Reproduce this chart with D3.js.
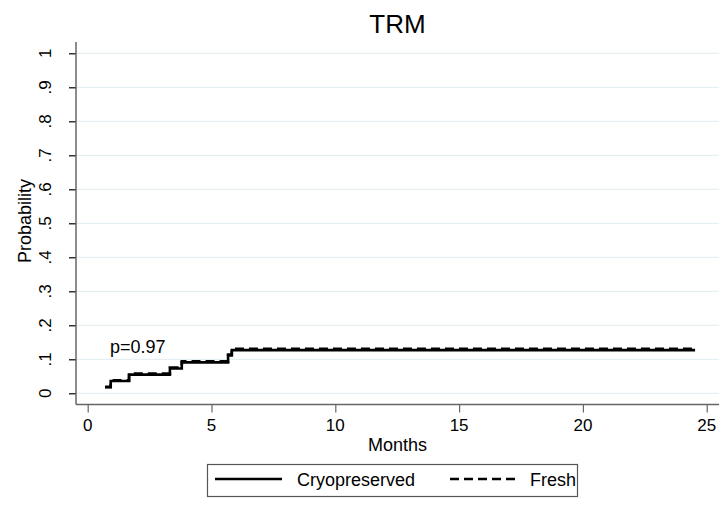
<!DOCTYPE html>
<html>
<head>
<meta charset="utf-8">
<script src="https://cdn.jsdelivr.net/npm/d3@7"></script>
<style>
  body { margin: 0; background: #fff; }
  text { font-family: "Liberation Sans", Arial, Helvetica, sans-serif; fill: #000; }
</style>
</head>
<body>
<div id="vis"></div>
<script>
// data
const Y_TICKS = [0, 0.1, 0.2, 0.3, 0.4, 0.5, 0.6, 0.7, 0.8, 0.9, 1];
const Y_LABELS = ["0", ".1", ".2", ".3", ".4", ".5", ".6", ".7", ".8", ".9", "1"];
const X_TICKS = [0, 5, 10, 15, 20, 25];

// step curves: months, probability
const CRYO_T = [0.70, 0.93, 1.67, 3.32, 3.80, 5.67, 5.82, 24.53];
const CRYO_P = [0.018, 0.036, 0.055, 0.073, 0.091, 0.111, 0.127, 0.127];
const FRESH_T = [0.70, 0.93, 1.67, 3.32, 3.80, 5.67, 5.82, 24.53];
const FRESH_P = [0.019, 0.038, 0.058, 0.076, 0.094, 0.114, 0.131, 0.131];

const SERIES = ["Cryopreserved", "Fresh"];

// frame
const FRAME_WIDTH = 726;
const FRAME_HEIGHT = 506;

const svg = d3.select("#vis")
  .append("svg")
  .attr("width", FRAME_WIDTH)
  .attr("height", FRAME_HEIGHT);

const X_SCALE = d3.scaleLinear().domain([0, 25]).range([87.7, 706.7]);
const Y_SCALE = d3.scaleLinear().domain([0, 1]).range([393.3, 53.3]);

const PLOT = { left: 76, right: 719, top: 42, bottom: 404.5 };

// grid lines
svg.append("g")
  .selectAll("line")
  .data(Y_TICKS)
  .enter()
  .append("line")
    .attr("x1", PLOT.left)
    .attr("x2", PLOT.right)
    .attr("y1", (d) => Y_SCALE(d))
    .attr("y2", (d) => Y_SCALE(d))
    .attr("stroke", "#e6eff1")
    .attr("stroke-width", 1.2);

// y axis
const yAxis = svg.append("g")
  .attr("transform", "translate(" + PLOT.left + ",0)")
  .call(d3.axisLeft(Y_SCALE).tickValues(Y_TICKS).tickSize(7).tickFormat(""));
yAxis.select(".domain").remove();
yAxis.selectAll(".tick line").attr("stroke", "#000").attr("stroke-width", 1.2);
svg.append("line")
  .attr("x1", PLOT.left).attr("x2", PLOT.left)
  .attr("y1", PLOT.top).attr("y2", PLOT.bottom)
  .attr("stroke", "#666").attr("stroke-width", 1.5);

svg.append("g")
  .selectAll("text")
  .data(Y_TICKS)
  .enter()
  .append("text")
    .attr("transform", (d) => "translate(51," + Y_SCALE(d) + ") rotate(-90)")
    .attr("text-anchor", "middle")
    .attr("font-size", 17)
    .text((d, i) => Y_LABELS[i]);

// x axis
const xAxis = svg.append("g")
  .attr("transform", "translate(0," + PLOT.bottom + ")")
  .call(d3.axisBottom(X_SCALE).tickValues(X_TICKS).tickSize(8).tickFormat(""));
xAxis.select(".domain").remove();
xAxis.selectAll(".tick line").attr("stroke", "#666").attr("stroke-width", 1.2);
svg.append("line")
  .attr("x1", PLOT.left).attr("x2", PLOT.right)
  .attr("y1", PLOT.bottom).attr("y2", PLOT.bottom)
  .attr("stroke", "#666").attr("stroke-width", 1.5);

svg.append("g")
  .selectAll("text")
  .data(X_TICKS)
  .enter()
  .append("text")
    .attr("x", (d) => X_SCALE(d))
    .attr("y", 431)
    .attr("text-anchor", "middle")
    .attr("font-size", 17)
    .text((d) => d);

// axis titles
svg.append("text")
  .attr("x", 397.5).attr("y", 451)
  .attr("text-anchor", "middle")
  .attr("font-size", 18)
  .text("Months");

svg.append("text")
  .attr("transform", "translate(31,221) rotate(-90)")
  .attr("text-anchor", "middle")
  .attr("font-size", 18)
  .text("Probability");

// title
svg.append("text")
  .attr("x", 397.5).attr("y", 33)
  .attr("text-anchor", "middle")
  .attr("font-size", 26)
  .text("TRM");

// step lines
const line = d3.line()
  .x((d) => X_SCALE(d[0]))
  .y((d) => Y_SCALE(d[1]))
  .curve(d3.curveStepAfter);

svg.append("path")
  .datum(d3.zip(CRYO_T, CRYO_P))
  .attr("d", line)
  .attr("fill", "none")
  .attr("stroke", "#000")
  .attr("stroke-width", 2.6);

svg.append("path")
  .datum(d3.zip(FRESH_T, FRESH_P))
  .attr("d", line)
  .attr("fill", "none")
  .attr("stroke", "#000")
  .attr("stroke-width", 2.6)
  .attr("stroke-dasharray", "9,5");

// p value
svg.append("text")
  .attr("x", 110).attr("y", 353)
  .attr("font-size", 18)
  .text("p=0.97");

// legend
const legend = svg.append("g");
legend.append("rect")
  .attr("x", 207.5).attr("y", 464.5)
  .attr("width", 370).attr("height", 32)
  .attr("fill", "#fff")
  .attr("stroke", "#555")
  .attr("stroke-width", 1.2);

const LEG_X = [215, 450];
const LEG_TEXT_X = [297, 530];
const LEG_DASH = [null, "9,5"];

legend.selectAll("line")
  .data(SERIES)
  .enter()
  .append("line")
    .attr("x1", (d, i) => LEG_X[i])
    .attr("x2", (d, i) => LEG_X[i] + 67)
    .attr("y1", 479).attr("y2", 479)
    .attr("stroke", "#000")
    .attr("stroke-width", 2.6)
    .attr("stroke-dasharray", (d, i) => LEG_DASH[i]);

legend.selectAll("text")
  .data(SERIES)
  .enter()
  .append("text")
    .attr("x", (d, i) => LEG_TEXT_X[i])
    .attr("y", 486)
    .attr("font-size", 18)
    .text((d) => d);
</script>
</body>
</html>
